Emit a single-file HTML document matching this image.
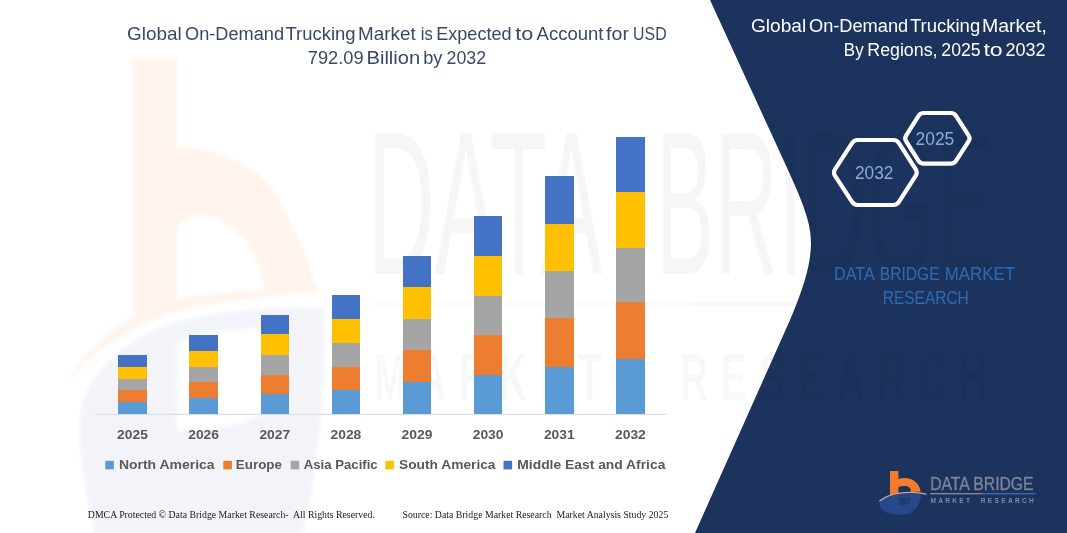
<!DOCTYPE html>
<html><head><meta charset="utf-8"><title>Global On-Demand Trucking Market</title>
<style>
html,body{margin:0;padding:0;background:#fff;}
body{width:1067px;height:533px;overflow:hidden;font-family:"Liberation Sans",sans-serif;}
svg{display:block}
svg text{font-family:"Liberation Sans",sans-serif;}
.serif{font-family:"Liberation Serif",serif !important;}
</style></head><body>
<svg width="1067" height="533" viewBox="0 0 1067 533">
<defs>
<filter id="blur2" x="-10%" y="-10%" width="120%" height="120%"><feGaussianBlur stdDeviation="2.2"/></filter>
</defs>
<rect width="1067" height="533" fill="#ffffff"/>
<g opacity="0.999">
<g opacity="0.08" filter="url(#blur2)">
<path d="M82 402 C95 367 130 337 170 324 C210 312 270 306 324 307 C326 342 324 402 317 452 C313 492 307 522 299 545 L98 545 C86 502 76 452 82 402 Z" fill="#2f57a8" opacity="0.8"/>
<path d="M178 342 C205 332 250 329 285 329 C287 352 280 390 265 410 C248 425 210 430 178 430 Z" fill="#ffffff"/>
<path d="M132 58 L177 58 L177 146.5 C192 146 206 148.5 218.5 153 C234 158.5 247 165.5 258 174.5 C270 184 279 197 285.5 212 C293 226 300 241 305 254 C310 268 314 281 317 291 L264 290 C263 276 259 264 254 254 C248 243 240 233 230 226 C220 219 209 215 198.8 215.5 C191 216 184 220 177 226.4 L177 300 L132 314 Z" fill="#f47b2a"/>
<path d="M68 382 C85 350 120 318 165 302 C200 291 260 288 330 291 C260 297 205 303 170 314 C125 330 90 355 68 382 Z" fill="#f47b2a"/>
</g>
<!--NAVY-->
<path d="M710 0 L788 170 C805 207 811 225 811 243 C811 262 805 285 790 320 L695 533 L1067 533 L1067 0 Z" fill="#1c335d"/>
<g opacity="0.04" fill="#000000">
<g font-size="204"><text transform="translate(367.54,273.90) scale(0.4570,1)">DATA</text>
<text transform="translate(655.44,273.90) scale(0.4327,1)">BRIDGE</text></g>
<rect x="372" y="302" width="320" height="4" fill="#f47b2a"/>
<rect x="692" y="302" width="316" height="4" fill="#2f57a8"/>
<g opacity="0.75" font-weight="bold"><text x="374" y="400" font-size="66" textLength="240" lengthAdjust="spacingAndGlyphs" letter-spacing="22">MARKET</text>
<text x="680" y="400" font-size="66" textLength="320" lengthAdjust="spacingAndGlyphs" letter-spacing="22">RESEARCH</text></g>
</g>
<!-- chart -->
<line x1="95.7" y1="414.3" x2="666.5" y2="414.3" stroke="#d9d9d9" stroke-width="1"/>
<g shape-rendering="crispEdges">
<rect x="118.2" y="354.7" width="28.6" height="12.0" fill="#4472c4"/>
<rect x="118.2" y="366.7" width="28.6" height="12.3" fill="#ffc000"/>
<rect x="118.2" y="379.0" width="28.6" height="10.7" fill="#a5a5a5"/>
<rect x="118.2" y="389.7" width="28.6" height="11.8" fill="#ed7d31"/>
<rect x="118.2" y="401.5" width="28.6" height="12.1" fill="#5b9bd5"/>
<rect x="189.3" y="334.6" width="28.6" height="15.9" fill="#4472c4"/>
<rect x="189.3" y="350.5" width="28.6" height="16.5" fill="#ffc000"/>
<rect x="189.3" y="367.0" width="28.6" height="14.7" fill="#a5a5a5"/>
<rect x="189.3" y="381.7" width="28.6" height="16.1" fill="#ed7d31"/>
<rect x="189.3" y="397.8" width="28.6" height="15.8" fill="#5b9bd5"/>
<rect x="260.5" y="314.6" width="28.6" height="19.8" fill="#4472c4"/>
<rect x="260.5" y="334.4" width="28.6" height="20.5" fill="#ffc000"/>
<rect x="260.5" y="354.9" width="28.6" height="19.7" fill="#a5a5a5"/>
<rect x="260.5" y="374.6" width="28.6" height="19.1" fill="#ed7d31"/>
<rect x="260.5" y="393.7" width="28.6" height="19.9" fill="#5b9bd5"/>
<rect x="331.6" y="294.7" width="28.6" height="23.9" fill="#4472c4"/>
<rect x="331.6" y="318.6" width="28.6" height="24.4" fill="#ffc000"/>
<rect x="331.6" y="343.0" width="28.6" height="23.7" fill="#a5a5a5"/>
<rect x="331.6" y="366.7" width="28.6" height="22.8" fill="#ed7d31"/>
<rect x="331.6" y="389.5" width="28.6" height="24.1" fill="#5b9bd5"/>
<rect x="402.7" y="255.8" width="28.6" height="31.0" fill="#4472c4"/>
<rect x="402.7" y="286.8" width="28.6" height="32.6" fill="#ffc000"/>
<rect x="402.7" y="319.4" width="28.6" height="31.0" fill="#a5a5a5"/>
<rect x="402.7" y="350.4" width="28.6" height="31.4" fill="#ed7d31"/>
<rect x="402.7" y="381.8" width="28.6" height="31.8" fill="#5b9bd5"/>
<rect x="473.8" y="216.1" width="28.6" height="39.7" fill="#4472c4"/>
<rect x="473.8" y="255.8" width="28.6" height="39.7" fill="#ffc000"/>
<rect x="473.8" y="295.5" width="28.6" height="39.2" fill="#a5a5a5"/>
<rect x="473.8" y="334.7" width="28.6" height="40.5" fill="#ed7d31"/>
<rect x="473.8" y="375.2" width="28.6" height="38.4" fill="#5b9bd5"/>
<rect x="545.0" y="175.7" width="28.6" height="48.4" fill="#4472c4"/>
<rect x="545.0" y="224.1" width="28.6" height="46.7" fill="#ffc000"/>
<rect x="545.0" y="270.8" width="28.6" height="47.3" fill="#a5a5a5"/>
<rect x="545.0" y="318.1" width="28.6" height="48.4" fill="#ed7d31"/>
<rect x="545.0" y="366.5" width="28.6" height="47.1" fill="#5b9bd5"/>
<rect x="616.1" y="136.9" width="28.6" height="55.1" fill="#4472c4"/>
<rect x="616.1" y="192.0" width="28.6" height="55.8" fill="#ffc000"/>
<rect x="616.1" y="247.8" width="28.6" height="54.0" fill="#a5a5a5"/>
<rect x="616.1" y="301.8" width="28.6" height="56.8" fill="#ed7d31"/>
<rect x="616.1" y="358.6" width="28.6" height="55.0" fill="#5b9bd5"/>
</g>
<g font-size="13.7" font-weight="bold" fill="#595959">
<text x="117.1" y="439.4" textLength="30.8" lengthAdjust="spacingAndGlyphs">2025</text>
<text x="188.2" y="439.4" textLength="30.8" lengthAdjust="spacingAndGlyphs">2026</text>
<text x="259.4" y="439.4" textLength="30.8" lengthAdjust="spacingAndGlyphs">2027</text>
<text x="330.5" y="439.4" textLength="30.8" lengthAdjust="spacingAndGlyphs">2028</text>
<text x="401.6" y="439.4" textLength="30.8" lengthAdjust="spacingAndGlyphs">2029</text>
<text x="472.7" y="439.4" textLength="30.8" lengthAdjust="spacingAndGlyphs">2030</text>
<text x="543.9" y="439.4" textLength="30.8" lengthAdjust="spacingAndGlyphs">2031</text>
<text x="615.0" y="439.4" textLength="30.8" lengthAdjust="spacingAndGlyphs">2032</text>
</g>
<!-- legend -->
<g>
<rect x="105.3" y="460.8" width="8.6" height="8.6" fill="#5b9bd5"/>
<rect x="223.3" y="460.8" width="8.6" height="8.6" fill="#ed7d31"/>
<rect x="290.6" y="460.8" width="8.6" height="8.6" fill="#a5a5a5"/>
<rect x="385.3" y="460.8" width="8.6" height="8.6" fill="#ffc000"/>
<rect x="503.5" y="460.8" width="8.6" height="8.6" fill="#4472c4"/>
</g>
<g font-size="13.4" font-weight="bold" fill="#595959">
<text x="118.9" y="468.9" textLength="95.7" lengthAdjust="spacingAndGlyphs">North America</text>
<text x="235.8" y="468.9" textLength="46.2" lengthAdjust="spacingAndGlyphs">Europe</text>
<text x="303.8" y="468.9" textLength="73.9" lengthAdjust="spacingAndGlyphs">Asia Pacific</text>
<text x="399.0" y="468.9" textLength="96.5" lengthAdjust="spacingAndGlyphs">South America</text>
<text x="517.3" y="468.9" textLength="148.1" lengthAdjust="spacingAndGlyphs">Middle East and Africa</text>
</g>
<!-- titles -->
<g font-size="18" fill="#3a4868">
<text transform="translate(127.05,39.70) scale(1.0511,1)">Global</text>
<text transform="translate(185.08,39.70) scale(1.0101,1)">On-Demand</text>
<text transform="translate(285.53,39.70) scale(1.0258,1)">Trucking</text>
<text transform="translate(358.09,39.70) scale(1.0494,1)">Market</text>
<text transform="translate(420.82,39.70) scale(0.9229,1)">is</text>
<text transform="translate(436.26,39.70) scale(1.0035,1)">Expected</text>
<text transform="translate(515.17,39.70) scale(1.2037,1)">to</text>
<text transform="translate(536.60,39.70) scale(1.0294,1)">Account</text>
<text transform="translate(606.11,39.70) scale(1.0915,1)">for</text>
<text transform="translate(633.11,39.70) scale(0.8822,1)">USD</text>
<text transform="translate(307.79,64.00) scale(1.0137,1)">792.09</text>
<text transform="translate(366.49,64.00) scale(1.1199,1)">Billion</text>
<text transform="translate(423.21,64.00) scale(1.0157,1)">by</text>
<text transform="translate(446.51,64.00) scale(0.9882,1)">2032</text>
</g>
<g font-size="17.6" fill="#ffffff">
<text transform="translate(750.94,31.80) scale(1.0872,1)">Global</text>
<text transform="translate(808.98,31.80) scale(1.0352,1)">On-Demand</text>
<text transform="translate(909.93,31.80) scale(1.0521,1)">Trucking</text>
<text transform="translate(981.94,31.80) scale(1.1076,1)">Market,</text>
<text transform="translate(843.84,55.70) scale(0.9636,1)">By</text>
<text transform="translate(867.28,55.70) scale(1.0116,1)">Regions,</text>
<text transform="translate(941.32,55.70) scale(1.0033,1)">2025</text>
<text transform="translate(983.45,55.70) scale(1.3112,1)">to</text>
<text transform="translate(1005.50,55.70) scale(1.0241,1)">2032</text>
</g>
<!-- hexagons -->
<g fill="none" stroke="#ffffff" stroke-width="4.2" stroke-linejoin="round">
<path d="M834.95 175.52 Q833.00 172.50 834.95 169.48 L852.05 143.02 Q854.00 140.00 857.60 140.00 L893.40 140.00 Q897.00 140.00 898.93 143.04 L915.77 169.46 Q917.70 172.50 915.77 175.54 L898.93 201.96 Q897.00 205.00 893.40 205.00 L857.60 205.00 Q854.00 205.00 852.05 201.98 Z"/>
<path d="M906.06 141.09 Q904.30 138.30 906.06 135.51 L918.54 115.79 Q920.30 113.00 923.60 113.00 L950.90 113.00 Q954.20 113.00 955.99 115.77 L968.71 135.53 Q970.50 138.30 968.71 141.07 L955.99 160.83 Q954.20 163.60 950.90 163.60 L923.60 163.60 Q920.30 163.60 918.54 160.81 Z"/>
</g>
<g font-size="18" fill="#8faadc">
<text x="855" y="178.7" textLength="38.4" lengthAdjust="spacingAndGlyphs">2032</text>
<text x="915.6" y="144.9" textLength="38.6" lengthAdjust="spacingAndGlyphs">2025</text>
</g>
<g font-size="17.8" fill="#2e6bb0">
<text transform="translate(834.11,280.00) scale(0.9067,1)">DATA</text>
<text transform="translate(879.75,280.00) scale(0.8783,1)">BRIDGE</text>
<text transform="translate(944.65,280.00) scale(0.9508,1)">MARKET</text>
<text transform="translate(882.76,303.80) scale(0.8706,1)">RESEARCH</text>
</g>
<g transform="translate(890,471)">
<path d="M-9.6 29.9 C-6.5 28 -3.4 26.6 0 25.5 C2.8 24.6 5.5 24 8.4 23.6 C12.5 23 16.5 22.6 20.8 22.5 C24.3 22.4 27.6 22.6 30.9 23.1 C31 25 30.8 26.6 30.4 28.1 C29.8 31 28.8 33.6 27 36 C25 38.8 22.4 40.8 19.1 42.2 C16.2 43.3 13.2 43.7 10.1 43.6 C6.2 43.5 2.4 43.2 -1.1 42.2 C-4.4 41.2 -6.8 39.9 -8.4 38.2 C-9.6 36.8 -10.1 35.3 -10.1 33.7 C-10.1 32.4 -9.9 31.2 -9.6 29.9 Z" fill="#2f57a8" opacity="0.62"/>
<path d="M9 27.1 C13 26.4 17 26 20.8 25.9 C21 27.6 20.8 29.1 20.2 30.4 C19.3 32.2 17.7 33.2 15.7 33.7 C13.5 34.2 11.2 34.4 9 34.3 Z" fill="#1c335d" opacity="0.6"/>
<path d="M0 0 L8.4 0 L8.4 7.9 C11 7 13.5 6.9 15.7 7.1 C19 7.4 21.6 8.3 23.6 9.6 C26.4 11.4 28 13.4 28.9 15.2 C30 17.4 30.5 19.2 30.6 20.8 C27 20.7 24 20.8 20.8 21.0 C20.9 19.5 20.7 18.4 20.2 17.4 C19.4 16 17.6 15.3 15.7 15.1 C13.4 14.9 10.8 15.3 8.4 16 L8.4 21.9 C5.4 22.4 2.6 23 0 23.8 Z" fill="#f47b2a"/>
<path d="M-10.3 29.9 C-7 27.3 -3.6 25.5 0 24.3 C2.8 23.3 5.5 22.7 8.4 22.3 C12.5 21.6 16.5 21.3 20.8 21.3 C26 21.2 31 21.8 36 23.1" fill="none" stroke="#cfa79b" stroke-width="1.25" stroke-linecap="round"/>
</g>
<g>
<text x="930.2" y="490.3" font-size="17.9" fill="#7b8499" stroke="#7b8499" stroke-width="0.3" textLength="103.4" lengthAdjust="spacingAndGlyphs">DATA BRIDGE</text>
<rect x="930" y="493.2" width="53" height="1.1" fill="#a893ae"/>
<rect x="983" y="493.2" width="52.5" height="1.1" fill="#4a76b8"/>
<text x="930.4" y="502.5" font-size="6.6" font-weight="bold" fill="#808aa2" textLength="39.6" lengthAdjust="spacing">MARKET</text>
<text x="980.8" y="502.5" font-size="6.6" font-weight="bold" fill="#808aa2" textLength="53" lengthAdjust="spacing">RESEARCH</text>
</g>
<!-- footer -->
<g class="serif" font-size="10.4" fill="#1a1a1a" style="font-family:'Liberation Serif',serif;white-space:pre">
<text class="serif" x="87.8" y="518" textLength="287.1" lengthAdjust="spacingAndGlyphs" xml:space="preserve">DMCA Protected © Data Bridge Market Research-  All Rights Reserved.</text>
<text class="serif" x="402.5" y="518" textLength="265.8" lengthAdjust="spacingAndGlyphs" xml:space="preserve">Source: Data Bridge Market Research  Market Analysis Study 2025</text>
</g>
</g>
</svg>
</body></html>
